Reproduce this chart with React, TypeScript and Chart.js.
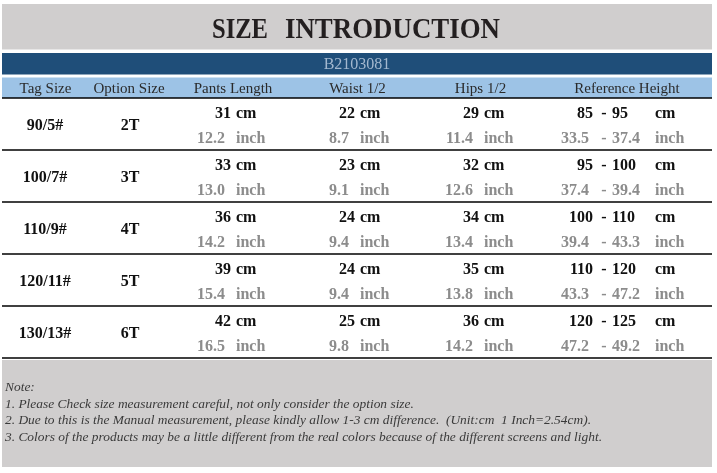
import React, { useEffect, useRef } from "react";
import { Chart, registerables } from "chart.js";

Chart.register(...registerables);

// ---------- data ----------
const titleWords = ["SIZE", "INTRODUCTION"];
const codeText = "B2103081";
const headers = ["Tag Size", "Option Size", "Pants Length", "Waist 1/2", "Hips 1/2", "Reference Height"];
const tagSizes = ["90/5#", "100/7#", "110/9#", "120/11#", "130/13#"];
const optionSizes = ["2T", "3T", "4T", "5T", "6T"];
const pantsCm = [31, 33, 36, 39, 42];
const pantsInch = [12.2, 13.0, 14.2, 15.4, 16.5];
const waistCm = [22, 23, 24, 24, 25];
const waistInch = [8.7, 9.1, 9.4, 9.4, 9.8];
const hipsCm = [29, 32, 34, 35, 36];
const hipsInch = [11.4, 12.6, 13.4, 13.8, 14.2];
const heightCmMin = [85, 95, 100, 110, 120];
const heightCmMax = [95, 100, 110, 120, 125];
const heightInchMin = [33.5, 37.4, 39.4, 43.3, 47.2];
const heightInchMax = [37.4, 39.4, 43.3, 47.2, 49.2];
const notes = [
  "Note:",
  "1. Please Check size measurement careful, not only consider the option size.",
  "2. Due to this is the Manual measurement, please kindly allow 1-3 cm difference.  (Unit:cm  1 Inch=2.54cm).",
  "3. Colors of the products may be a little different from the real colors because of the different screens and light.",
];

// ---------- layout (in page units of the hidden scales) ----------
const W = 717;
const H = 473;
const L = { left: 2, right: 712 };
const titleBand = { top: 4, bottom: 49.5, base: 38.3 };
const titleSpans = [
  [212, 268],
  [285, 500],
];
const codeBand = { top: 53, bottom: 74.5, base: 68.5 };
const headBand = { top: 77.5, bottom: 98, base: 92.5 };
const rowTop0 = 98;
const rowH = 52;
const notesBand = { top: 360, bottom: 467, base0: 391, step: 16.6, left: 5, right: 602 };
const headerX = [45.5, 129, 233, 357.5, 480.5, 627];
const tagX = 45;
const optX = 130;
const unitX = [236, 360, 484];
const hRight = 593;
const hDash = 604;
const hLeft = 612;
const hUnit = 655;

const SERIF = "'Liberation Serif', 'Times New Roman', serif";

const tablePlugin = {
  id: "sizeTable",
  afterDraw(chart: any) {
    const ctx = chart.ctx as CanvasRenderingContext2D;
    const xs = chart.scales.x;
    const ys = chart.scales.y;
    const px = (v: number) => xs.getPixelForValue(v);
    const py = (v: number) => ys.getPixelForValue(v);
    const band = (top: number, bottom: number, color: string) => {
      ctx.fillStyle = color;
      ctx.fillRect(px(L.left), py(top), px(L.right) - px(L.left), py(bottom) - py(top));
    };
    const text = (s: string, x: number, y: number, font: string, color: string, align: CanvasTextAlign) => {
      ctx.font = font;
      ctx.fillStyle = color;
      ctx.textAlign = align;
      ctx.textBaseline = "alphabetic";
      ctx.fillText(s, px(x), py(y));
    };
    const fitText = (s: string, x0: number, x1: number, y: number, font: string, color: string) => {
      ctx.save();
      ctx.font = font;
      ctx.fillStyle = color;
      ctx.textAlign = "left";
      ctx.textBaseline = "alphabetic";
      const w = ctx.measureText(s).width;
      const target = px(x1) - px(x0);
      ctx.translate(px(x0), py(y));
      ctx.scale(target / w, 1);
      ctx.fillText(s, 0, 0);
      ctx.restore();
    };
    ctx.save();
    // bands
    band(titleBand.top, titleBand.bottom, "#d0cece");
    band(codeBand.top, codeBand.bottom, "#1f4e79");
    band(headBand.top, headBand.bottom, "#9dc3e6");
    band(notesBand.top, notesBand.bottom, "#d0cece");

    // title
    titleWords.forEach((w, i) =>
      fitText(w, titleSpans[i][0], titleSpans[i][1], titleBand.base, `bold 29px ${SERIF}`, "#231f20")
    );
    text(codeText, 357, codeBand.base, `16px ${SERIF}`, "#a3b8cf", "center");
    headers.forEach((h, i) => text(h, headerX[i], headBand.base, `15px ${SERIF}`, "#2a2a2a", "center"));

    // separators
    ctx.strokeStyle = "#000";
    ctx.lineWidth = 1.6;
    for (let i = 0; i <= tagSizes.length; i++) {
      const y = py(rowTop0 + i * rowH);
      ctx.beginPath();
      ctx.moveTo(px(L.left), y);
      ctx.lineTo(px(L.right), y);
      ctx.stroke();
    }

    const bold = `bold 16px ${SERIF}`;
    const dark = "#111";
    const grey = "#8c8c8c";
    const cmCols = [pantsCm, waistCm, hipsCm];
    const inCols = [pantsInch, waistInch, hipsInch];
    tagSizes.forEach((tag, r) => {
      const top = rowTop0 + r * rowH;
      const yCm = top + 20;
      const yIn = top + 44.7;
      text(tag, tagX, top + 32, bold, dark, "center");
      text(optionSizes[r], optX, top + 32, bold, dark, "center");
      cmCols.forEach((col, c) => {
        text(String(col[r]), unitX[c] - 5, yCm, bold, dark, "right");
        text("cm", unitX[c], yCm, bold, dark, "left");
        text(inCols[c][r].toFixed(1), unitX[c] - 11, yIn, bold, grey, "right");
        text("inch", unitX[c], yIn, bold, grey, "left");
      });
      text(String(heightCmMin[r]), hRight, yCm, bold, dark, "right");
      text("-", hDash, yCm, bold, dark, "center");
      text(String(heightCmMax[r]), hLeft, yCm, bold, dark, "left");
      text("cm", hUnit, yCm, bold, dark, "left");
      text(heightInchMin[r].toFixed(1), hRight - 4, yIn, bold, grey, "right");
      text("-", hDash, yIn, bold, grey, "center");
      text(heightInchMax[r].toFixed(1), hLeft, yIn, bold, grey, "left");
      text("inch", hUnit, yIn, bold, grey, "left");
    });

    // notes: scale so the last line spans the same width as in the source
    const noteFont = `italic 13px ${SERIF}`;
    ctx.font = noteFont;
    const ref = ctx.measureText(notes[notes.length - 1]).width;
    const k = (px(notesBand.right) - px(notesBand.left)) / ref;
    notes.forEach((n, i) => {
      ctx.save();
      ctx.font = noteFont;
      ctx.fillStyle = "#3a3a3a";
      ctx.textAlign = "left";
      ctx.textBaseline = "alphabetic";
      ctx.translate(px(notesBand.left), py(notesBand.base0 + i * notesBand.step));
      ctx.scale(k, 1);
      ctx.fillText(n, 0, 0);
      ctx.restore();
    });
    ctx.restore();
  },
};

export default function App() {
  const ref = useRef<HTMLCanvasElement | null>(null);
  useEffect(() => {
    document.body.style.margin = "0";
    document.body.style.overflow = "hidden";
    const canvas = ref.current;
    if (!canvas) return;
    const chart = new Chart(canvas, {
      type: "scatter",
      data: { datasets: [] },
      options: {
        animation: false,
        responsive: false,
        events: [],
        layout: { padding: 0 },
        plugins: { legend: { display: false }, tooltip: { enabled: false }, title: { display: false } },
        scales: {
          x: { type: "linear", min: 0, max: W, display: false },
          y: { type: "linear", min: 0, max: H, reverse: true, display: false },
        },
      },
      plugins: [tablePlugin],
    });
    return () => chart.destroy();
  }, []);
  return (
    <div style={{ width: W, height: H, background: "#fff" }}>
      <canvas ref={ref} width={W} height={H} style={{ display: "block", width: W, height: H }} />
    </div>
  );
}
